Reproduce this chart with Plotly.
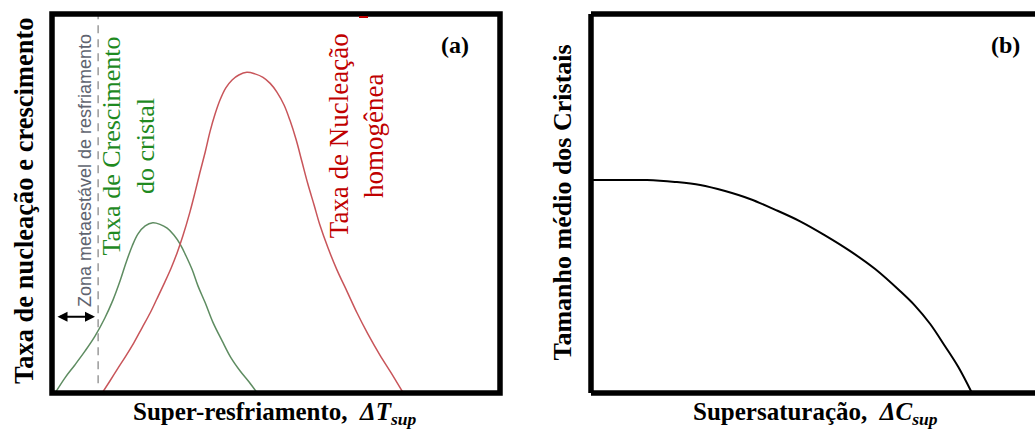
import plotly.graph_objects as go

W, H = 1035, 430

# ---- Data (arbitrary units 0-100) ----
# Panel (a): crystal growth rate (green)
growth_x = [0.7, 2.9, 5.1, 7.4, 9.6, 11.8, 13.6, 15.2, 16.5, 17.9, 19.2, 20.8, 22.5, 24.1, 25.7,
            27.2, 28.6, 29.9, 31.3, 32.6, 34.2, 35.9, 38.0, 40.0, 42.0, 44.0, 45.8]
growth_y = [0.0, 4.0, 7.4, 11.1, 15.0, 19.8, 24.5, 29.6, 34.3, 38.8, 42.0, 44.1, 44.9, 44.5, 43.5,
            41.7, 39.3, 36.2, 32.5, 28.2, 23.8, 18.7, 13.7, 9.2, 5.8, 2.9, 0.0]

# Panel (a): homogeneous nucleation rate (red)
nucl_x = [11.2, 13.0, 14.7, 16.5, 18.3, 20.1, 21.9, 23.4, 25.0, 26.6, 27.9, 29.2, 30.8, 31.9, 33.0,
          34.2, 35.3, 36.4, 37.5, 38.8, 40.2, 41.7, 43.5, 45.3, 47.1, 48.7, 50.2, 51.8, 53.1, 54.5,
          55.8, 57.1, 58.5, 59.8, 61.6, 63.6, 65.9, 68.1, 70.5, 73.2, 75.7, 78.4]
nucl_y = [0.0, 3.3, 6.5, 9.8, 13.3, 17.2, 21.1, 24.8, 28.8, 33.0, 36.9, 41.4, 47.8, 52.8, 58.1,
          63.6, 69.1, 73.6, 77.3, 80.5, 82.6, 83.9, 84.6, 84.2, 83.3, 81.7, 79.4, 76.0, 72.0, 66.8,
          61.0, 55.2, 49.6, 44.3, 38.3, 32.5, 26.7, 21.1, 15.6, 10.0, 5.3, 0.0]

# Metastable zone limit
metastable_x = 10.3

# Panel (b): mean crystal size vs supersaturation
size_x = [0.0, 6.5, 12.6, 18.9, 24.6, 30.2, 35.8, 41.4, 47.1, 52.7, 58.3, 64.0, 69.6, 73.0, 76.4,
          79.7, 82.7, 85.8]
size_y = [56.2, 56.2, 56.2, 55.7, 54.9, 53.3, 51.2, 48.4, 45.3, 41.6, 37.5, 32.7, 26.9, 23.0, 18.2,
          12.4, 6.9, 0.0]

GREEN_LINE = "#5e8c61"
RED_LINE = "#c8555a"
GREEN_TXT = "#1f8a1f"
RED_TXT = "#c00000"
SERIF = "Liberation Serif, Times New Roman, serif"
SANS = "Liberation Sans, Arial, sans-serif"

y_dom = [1 - 393 / H, 1 - 14 / H]
xa_dom = [52 / W, 500 / W]
xb_dom = [591 / W, 1.0]

fig = go.Figure()

fig.add_trace(go.Scatter(x=growth_x, y=growth_y, mode="lines", line=dict(color=GREEN_LINE, width=1.5, shape="spline", smoothing=1),
                         xaxis="x", yaxis="y", hoverinfo="skip"))
fig.add_trace(go.Scatter(x=nucl_x, y=nucl_y, mode="lines", line=dict(color=RED_LINE, width=1.5, shape="spline", smoothing=1),
                         xaxis="x", yaxis="y", hoverinfo="skip"))
fig.add_trace(go.Scatter(x=[metastable_x, metastable_x], y=[2.6, 100], mode="lines",
                         line=dict(color="#9a9a9a", width=1.5, dash="8px,6px"), xaxis="x", yaxis="y", hoverinfo="skip"))
fig.add_trace(go.Scatter(x=size_x, y=size_y, mode="lines", line=dict(color="black", width=2, shape="spline", smoothing=1),
                         xaxis="x2", yaxis="y2", hoverinfo="skip"))

ax_common = dict(visible=False, range=[0, 100], fixedrange=True)
fig.update_layout(
    width=W, height=H,
    margin=dict(l=0, r=0, t=0, b=0),
    paper_bgcolor="white", plot_bgcolor="white",
    showlegend=False,
    xaxis=dict(domain=xa_dom, anchor="y", **ax_common),
    yaxis=dict(domain=y_dom, anchor="x", **ax_common),
    xaxis2=dict(domain=xb_dom, anchor="y2", **ax_common),
    yaxis2=dict(domain=y_dom, anchor="x2", **ax_common),
)

# Frames
bw = 5.5
fig.add_shape(type="rect", xref="x domain", yref="y domain", x0=0, x1=1, y0=0, y1=1,
              line=dict(color="black", width=bw), layer="above")
for (x0, y0, x1, y1) in [(0, 0, 0, 1), (0, 1, 1.02, 1), (0, 0, 1.02, 0)]:
    fig.add_shape(type="line", xref="x2 domain", yref="y2 domain", x0=x0, y0=y0, x1=x1, y1=y1,
                  line=dict(color="black", width=bw), layer="above")
# small red mark under the top frame
fig.add_shape(type="line", xref="paper", yref="paper", x0=359 / W, x1=368 / W, y0=1 - 17 / H, y1=1 - 17 / H,
              line=dict(color=RED_TXT, width=2))

C = dict(xanchor="center", yanchor="middle", showarrow=False)
ann = []
# double arrow for the metastable zone
ann.append(dict(xref="x", yref="y", axref="x", ayref="y", x=9.6, y=20.1, ax=0.9, ay=20.1, text="",
                showarrow=True, arrowhead=2, arrowside="end+start", arrowwidth=2, arrowsize=1, arrowcolor="black"))
ann.append(dict(xref="x", yref="y", x=7.4, y=58.6, text="Zona metaestável de resfriamento", textangle=-90,
                font=dict(family=SANS, size=18, color="#5f6470"), **C))
ann.append(dict(xref="x", yref="y", x=17.1, y=65.2, text="Taxa de Crescimento<br>do cristal", textangle=-90,
                font=dict(family=SERIF, size=26, color=GREEN_TXT), **C))
ann.append(dict(xref="x", yref="y", x=67.9, y=67.8, text="Taxa de Nucleação<br>homogênea", textangle=-90,
                font=dict(family=SERIF, size=27, color=RED_TXT), **C))
ann.append(dict(xref="paper", yref="paper", x=455 / W, y=1 - 45 / H, text="<b>(a)</b>",
                font=dict(family=SERIF, size=24, color="black"), **C))
ann.append(dict(xref="paper", yref="paper", x=1005 / W, y=1 - 45 / H, text="<b>(b)</b>",
                font=dict(family=SERIF, size=24, color="black"), **C))
ann.append(dict(xref="paper", yref="paper", x=24 / W, y=1 - 201 / H, text="<b>Taxa de nucleação e crescimento</b>",
                textangle=-90, font=dict(family=SERIF, size=26.5, color="black"), **C))
ann.append(dict(xref="paper", yref="paper", x=562 / W, y=1 - 202.5 / H, text="<b>Tamanho médio dos Cristais</b>",
                textangle=-90, font=dict(family=SERIF, size=26, color="black"), **C))
ann.append(dict(xref="paper", yref="paper", x=275 / W, y=1 - 413 / H,
                text="<b>Super-resfriamento,  <i>ΔT<sub>sup</sub></i></b>",
                font=dict(family=SERIF, size=25, color="black"), **C))
ann.append(dict(xref="paper", yref="paper", x=815 / W, y=1 - 413 / H,
                text="<b>Supersaturação,  <i>ΔC<sub>sup</sub></i></b>",
                font=dict(family=SERIF, size=25, color="black"), **C))
fig.update_layout(annotations=ann)

fig.write_html("out.html")
